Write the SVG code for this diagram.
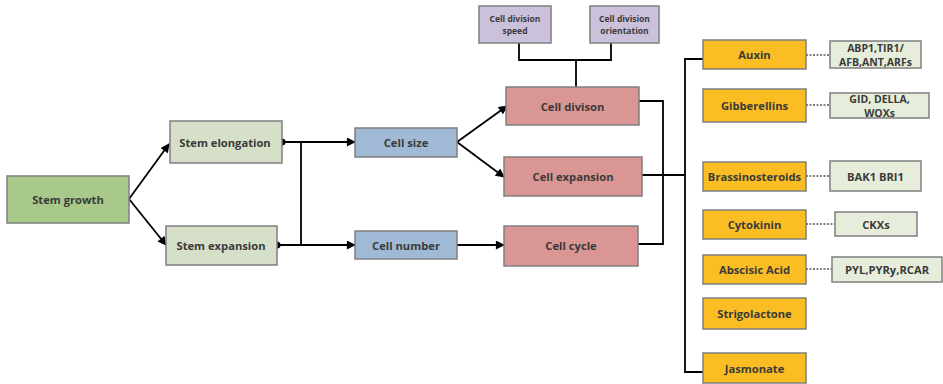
<svg xmlns="http://www.w3.org/2000/svg" width="943" height="384" viewBox="0 0 943 384">
<defs>
<marker id="ah" viewBox="0 0 10 10" refX="9" refY="5" markerWidth="10" markerHeight="9" markerUnits="userSpaceOnUse" orient="auto"><path d="M0,0 L10,5 L0,10 z" fill="#000"/></marker>
<style>
rect{stroke:#7f7f7f;stroke-width:1.5}
text{font-family:"Open Sans","Noto Sans","DejaVu Sans",sans-serif;font-weight:bold;fill:#3a3a3a;text-anchor:middle;dominant-baseline:central;font-size:11.2px}
.sm{font-size:8.5px}
.tw{font-size:10.5px}
.g1{fill:#a9c98b}.g2{fill:#d6dfc8}.bl{fill:#a0bad5}.rd{fill:#d99694}.pu{fill:#ccc1da}.or{fill:#fbbd24}.lg{fill:#e6eedb}
.ln{fill:none;stroke:#000;stroke-width:1.8}
.ds{fill:none;stroke:#000;stroke-width:1;stroke-dasharray:2,1.5}
</style>
</defs>
<g id="connectors">
<path class="ln" d="M129,199 L169,144" marker-end="url(#ah)"/>
<path class="ln" d="M129,199 L166,245" marker-end="url(#ah)"/>
<circle cx="282" cy="142" r="3.5" fill="#000"/>
<circle cx="277" cy="245" r="3.5" fill="#000"/>
<path class="ln" d="M282,142 H355" marker-end="url(#ah)"/>
<path class="ln" d="M277,245 H355" marker-end="url(#ah)"/>
<path class="ln" d="M301,142 V245"/>
<path class="ln" d="M457,142 L507,106" marker-end="url(#ah)"/>
<path class="ln" d="M457,142 L504,177" marker-end="url(#ah)"/>
<path class="ln" d="M457,245 H504" marker-end="url(#ah)"/>
<path class="ln" d="M519,43 V60 H611 V43 M576,60 V87"/>
<path class="ln" d="M639,101 H663 V244 H638"/>
<path class="ln" d="M642,175 H685"/>
<path class="ln" d="M703,59 H685 V372 H703"/>
<path class="ds" d="M806,55 H830 M806,105 H830 M806,176 H830 M806,224 H835 M806,269 H832"/>
</g>
<g id="stem-growth"><rect class="g1" x="7" y="176" width="122" height="47"/><text x="68" y="199.5">Stem growth</text></g>
<g id="stem-elongation"><rect class="g2" x="170" y="121" width="112" height="42"/><text x="225" y="142">Stem elongation</text></g>
<g id="stem-expansion"><rect class="g2" x="166" y="226" width="111" height="39"/><text x="221" y="245">Stem expansion</text></g>
<g id="cell-size"><rect class="bl" x="355" y="128" width="102" height="29"/><text x="406" y="142.5">Cell size</text></g>
<g id="cell-number"><rect class="bl" x="355" y="231" width="102" height="28"/><text x="406" y="245">Cell number</text></g>
<g id="cell-division-speed"><rect class="pu" x="479" y="6" width="72" height="37"/><text class="sm" x="515" y="18.5">Cell division</text><text class="sm" x="515" y="30">speed</text></g>
<g id="cell-division-orientation"><rect class="pu" x="590" y="6" width="69" height="37"/><text class="sm" x="624.5" y="18.5">Cell division</text><text class="sm" x="624.5" y="30">orientation</text></g>
<g id="cell-divison"><rect class="rd" x="506" y="87" width="133" height="38"/><text x="572.5" y="106">Cell divison</text></g>
<g id="cell-expansion"><rect class="rd" x="504" y="157" width="138" height="39"/><text x="573" y="176">Cell expansion</text></g>
<g id="cell-cycle"><rect class="rd" x="504" y="226" width="134" height="40"/><text x="571" y="245.5">Cell cycle</text></g>
<g id="auxin"><rect class="or" x="703" y="40" width="103" height="29"/><text x="754.5" y="54.5">Auxin</text></g>
<g id="gibberellins"><rect class="or" x="703" y="89" width="103" height="33"/><text x="754.5" y="105.5">Gibberellins</text></g>
<g id="brassinosteroids"><rect class="or" x="703" y="162" width="103" height="29"/><text x="754.5" y="176.5">Brassinosteroids</text></g>
<g id="cytokinin"><rect class="or" x="703" y="210" width="103" height="29"/><text x="754.5" y="224.5">Cytokinin</text></g>
<g id="abscisic-acid"><rect class="or" x="703" y="255" width="103" height="29"/><text x="754.5" y="269.5">Abscisic Acid</text></g>
<g id="strigolactone"><rect class="or" x="703" y="298" width="103" height="31"/><text x="754.5" y="313.5">Strigolactone</text></g>
<g id="jasmonate"><rect class="or" x="703" y="353" width="103" height="30"/><text x="754.5" y="368">Jasmonate</text></g>
<g id="abp1"><rect class="lg" x="830" y="41" width="91" height="27"/><text class="tw" x="875.5" y="47.5">ABP1,TIR1/</text><text class="tw" x="875.5" y="61.5">AFB,ANT,ARFs</text></g>
<g id="gid"><rect class="lg" x="830" y="93" width="99" height="25"/><text class="tw" x="879.5" y="98.5">GID, DELLA,</text><text class="tw" x="879.5" y="112.5">WOXs</text></g>
<g id="bak1"><rect class="lg" x="830" y="161" width="91" height="30"/><text x="875.5" y="176">BAK1 BRI1</text></g>
<g id="ckxs"><rect class="lg" x="835" y="212" width="82" height="24"/><text x="876" y="224">CKXs</text></g>
<g id="pyl"><rect class="lg" x="832" y="257" width="110" height="25"/><text x="887" y="269.5">PYL,PYRy,RCAR</text></g>
</svg>
